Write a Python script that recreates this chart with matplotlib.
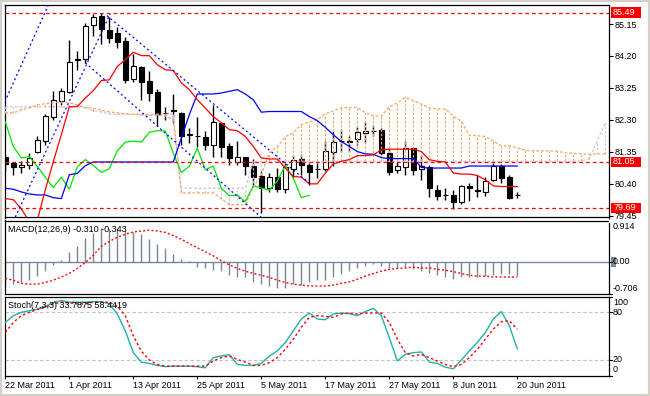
import numpy as np
import matplotlib
matplotlib.use('Agg')
import matplotlib.pyplot as plt
import matplotlib.transforms as mtransforms
from matplotlib.patches import Rectangle

plt.rcParams['font.family'] = ['Liberation Sans', 'DejaVu Sans']
plt.rcParams['font.size'] = 6.5

# ---- daily candles (one per trading day, 22 Mar 2011 .. 20 Jun 2011)
opens = [81.21, 81.02, 80.89, 80.96, 81.36, 81.68, 82.40, 82.85, 83.13, 84.08,
         84.12, 85.11, 85.40, 84.97, 84.88, 84.65, 83.51, 83.88, 83.46, 83.14,
         82.52, 82.58, 82.52, 81.86, 81.82, 81.79, 81.54, 82.21, 81.53, 81.06,
         81.20, 80.94, 80.62, 80.27, 80.60, 80.25, 80.84, 81.14, 80.97, 80.84,
         80.84, 81.36, 81.66, 81.68, 81.73, 81.91, 81.98, 82.01, 81.31, 80.82,
         80.89, 81.46, 80.84, 80.90, 80.22, 80.08, 80.07, 79.85, 80.34, 80.20,
         80.15, 80.50, 80.94, 80.59, 80.08]
highs = [81.26, 81.06, 81.09, 81.31, 81.83, 82.47, 83.17, 83.25, 84.68, 84.34,
         85.18, 85.46, 85.49, 85.35, 85.05, 84.75, 84.26, 83.91, 83.76, 83.22,
         82.67, 83.08, 82.55, 82.06, 82.40, 81.96, 82.75, 82.24, 81.61, 81.66,
         81.21, 81.14, 80.79, 80.72, 80.87, 81.02, 81.26, 81.28, 81.02, 81.02,
         81.66, 81.96, 82.04, 81.81, 82.10, 82.24, 82.16, 82.06, 81.43, 81.06,
         81.66, 81.48, 81.26, 80.97, 80.37, 80.29, 80.22, 80.37, 80.42, 80.65,
         80.59, 81.02, 80.99, 80.65, 80.17]
lows = [80.77, 80.65, 80.72, 80.84, 81.31, 81.56, 82.30, 82.75, 83.10, 83.79,
        84.00, 84.78, 84.56, 84.60, 84.45, 83.41, 83.43, 82.90, 82.87, 82.13,
        82.30, 82.21, 81.56, 81.61, 81.51, 81.41, 81.21, 81.21, 80.97, 80.97,
        80.67, 80.32, 79.52, 80.15, 80.15, 80.12, 80.57, 80.67, 80.37, 80.57,
        80.77, 80.92, 81.36, 81.36, 81.56, 81.61, 81.81, 81.26, 80.65, 80.72,
        80.67, 80.65, 80.52, 80.01, 79.93, 79.93, 79.66, 79.81, 79.88, 80.02,
        80.05, 80.47, 80.44, 79.96, 79.98]
closes = [80.99, 80.89, 80.96, 81.18, 81.71, 82.42, 82.90, 83.17, 84.02, 84.11,
          85.08, 85.35, 85.00, 84.73, 84.63, 83.49, 83.90, 83.44, 83.09, 82.47,
          82.51, 82.57, 81.83, 81.87, 81.81, 81.54, 82.24, 81.51, 81.17, 81.21,
          80.92, 80.60, 80.29, 80.60, 80.24, 80.90, 81.12, 80.95, 80.74, 80.85,
          81.38, 81.64, 81.67, 81.64, 81.93, 81.98, 81.97, 81.31, 80.74, 80.92,
          81.46, 80.82, 80.93, 80.27, 80.05, 80.07, 79.87, 80.34, 80.28, 80.21,
          80.49, 80.94, 80.57, 79.99, 80.06]

# ---- Ichimoku lines
tenkan = [79.96, 79.93, 79.66, 79.28, 79.32, 80.22, 81.06, 81.86, 82.69, 82.70,
          82.95, 83.17, 83.47, 83.49, 83.89, 84.09, 84.31, 84.21, 84.21, 83.94,
          83.79, 83.77, 83.40, 83.20, 82.90, 82.65, 82.40, 82.21, 82.01, 81.98,
          81.81, 81.51, 81.17, 81.14, 81.14, 80.87, 80.62, 80.60, 80.40, 80.40,
          80.72, 80.99, 81.07, 81.12, 81.24, 81.24, 81.26, 81.41, 81.43, 81.43,
          81.43, 81.43, 81.36, 81.12, 81.07, 81.05, 80.72, 80.69, 80.69, 80.65,
          80.52, 80.34, 80.32, 80.32, 80.32]
kijun = [80.27, 80.24, 80.16, 80.10, 80.07, 80.07, 79.99, 79.96, 80.67, 80.71,
         80.94, 81.05, 81.05, 81.05, 81.05, 81.05, 81.05, 81.05, 81.05, 81.05,
         81.05, 81.05, 81.76, 82.45, 83.07, 83.07, 83.07, 83.10, 83.15, 83.20,
         83.07, 82.90, 82.53, 82.55, 82.55, 82.55, 82.55, 82.55, 82.40, 82.28,
         82.08, 81.86, 81.66, 81.51, 81.36, 81.29, 81.28, 81.18, 81.15, 81.15,
         81.15, 81.15, 80.89, 80.87, 80.87, 80.87, 80.87, 80.87, 80.93, 80.93,
         80.93, 80.93, 80.93, 80.93, 80.93]
span_a = [82.51, 82.51, 82.60, 82.66, 82.75, 82.78, 82.81, 82.83, 82.81, 82.74,
          82.66, 82.65, 82.59, 82.54, 82.51, 82.48, 82.47, 82.45, 82.44, 82.44,
          82.42, 82.30, 80.13, 80.13, 80.13, 80.13, 80.13, 79.96, 79.78, 79.78,
          79.78, 80.32, 80.67, 81.32, 81.50, 81.80, 81.92, 82.16, 82.24, 82.31,
          82.48, 82.57, 82.66, 82.67, 82.67, 82.51, 82.42, 82.42, 82.69, 82.81,
          82.97, 82.87, 82.77, 82.66, 82.63, 82.62, 82.42, 82.26, 81.84, 81.83,
          81.81, 81.67, 81.53, 81.53, 81.47, 81.40, 81.38, 81.38, 81.38, 81.37,
          81.32, 81.31, 81.29, 81.28, 81.29, 81.29]
span_b = [82.69] * 11 + [82.57, 82.54] + [82.47] * 9 + [80.27] * 9 \
    + [81.07] * 42 + [81.15, 81.68, 82.22]
chikou_shift = 26

# ---- drawn objects: blue dashed trend lines (bar index, price) and levels
trend_lines = [[(-1.0, 82.34), (6.5, 86.31)],
               [(0.5, 79.03), (13.1, 85.45)],
               [(12.7, 85.40), (38.1, 80.40)],
               [(10.0, 84.00), (32.2, 79.36)]]
levels = [85.49, 81.05, 79.69]
price_ticks = [79.45, 80.40, 81.35, 82.30, 83.25, 84.20, 85.15]

# ---- MACD(12,26,9)
macd_hist = [-0.52, -0.50, -0.46, -0.41, -0.32, -0.21, -0.08, 0.03, 0.22, 0.34,
             0.52, 0.63, 0.75, 0.72, 0.74, 0.70, 0.66, 0.61, 0.50, 0.40,
             0.31, 0.18, 0.05, 0.01, -0.11, -0.15, -0.18, -0.21, -0.30, -0.34,
             -0.35, -0.46, -0.50, -0.53, -0.59, -0.58, -0.49, -0.52, -0.46, -0.41,
             -0.40, -0.34, -0.28, -0.21, -0.14, -0.10, -0.06, -0.10, -0.14, -0.14,
             -0.12, -0.17, -0.21, -0.25, -0.30, -0.34, -0.38, -0.34, -0.35, -0.34,
             -0.32, -0.30, -0.28, -0.28, -0.31]
macd_signal = [-0.37, -0.41, -0.48, -0.50, -0.50, -0.46, -0.41, -0.34, -0.26, -0.15,
               -0.02, 0.14, 0.34, 0.45, 0.54, 0.61, 0.66, 0.68, 0.70, 0.68,
               0.65, 0.58, 0.50, 0.40, 0.31, 0.22, 0.13, 0.02, -0.07, -0.15,
               -0.21, -0.26, -0.30, -0.35, -0.41, -0.46, -0.50, -0.52, -0.54, -0.54,
               -0.54, -0.52, -0.48, -0.45, -0.39, -0.32, -0.26, -0.21, -0.17, -0.15,
               -0.14, -0.12, -0.14, -0.14, -0.17, -0.19, -0.22, -0.26, -0.30, -0.32,
               -0.32, -0.34, -0.34, -0.34, -0.343]

# ---- Stochastic(7,3,3)
stoch_k = [67.2, 75.7, 80.0, 82.0, 84.0, 87.7, 92.0, 95.0, 92.8, 92.8,
           92.8, 93.6, 93.6, 90.6, 77.9, 56.6, 29.0, 17.0, 15.3, 12.8,
           11.1, 11.9, 11.9, 11.9, 11.1, 9.8, 22.6, 24.7, 26.4, 14.0,
           12.8, 12.8, 15.3, 24.7, 31.0, 41.7, 56.6, 71.5, 79.1, 71.5,
           70.6, 77.9, 79.1, 78.3, 75.7, 80.9, 85.1, 75.7, 48.1, 18.3,
           26.8, 28.9, 29.8, 17.0, 15.3, 10.6, 8.5, 19.6, 31.0, 41.7,
           54.5, 71.5, 80.9, 63.0, 33.79]
stoch_d = [54.5, 67.2, 75.7, 80.0, 83.4, 86.4, 90.6, 92.8, 92.0, 90.6,
           90.6, 92.8, 92.8, 92.8, 87.7, 75.7, 50.2, 31.0, 19.6, 14.0,
           11.9, 11.9, 11.9, 11.9, 11.9, 11.9, 18.3, 22.6, 24.7, 20.4,
           17.0, 12.8, 12.8, 16.2, 22.6, 33.2, 46.0, 60.9, 73.6, 75.7,
           74.9, 73.6, 77.9, 79.1, 77.9, 79.1, 79.1, 79.1, 67.2, 46.0,
           28.9, 24.7, 26.8, 22.6, 18.3, 14.0, 11.1, 14.0, 22.6, 33.2,
           46.0, 58.7, 68.1, 69.4, 58.44]

date_pos = [0, 8, 16, 24, 32, 40, 48, 56, 64]
date_labels = ['22 Mar 2011', '1 Apr 2011', '13 Apr 2011', '25 Apr 2011',
               '5 May 2011', '17 May 2011', '27 May 2011', '8 Jun 2011',
               '20 Jun 2011']

W, H = 650, 396
XLIM = (-0.1, 75.4)

fig = plt.figure(figsize=(W / 100, H / 100), dpi=100)
fig.patch.set_facecolor('white')


def box(x0, y0, x1, y1):
    # pixel rectangle (top-left origin) -> figure fraction
    return [x0 / W, 1 - y1 / H, (x1 - x0) / W, (y1 - y0) / H]


ax = fig.add_axes(box(4.5, 4.5, 608.5, 217.5))
ax_m = fig.add_axes(box(4.5, 220.5, 608.5, 293.5))
ax_s = fig.add_axes(box(4.5, 296.5, 608.5, 375.5))

for a in (ax, ax_m, ax_s):
    a.set_xlim(*XLIM)
    a.set_facecolor('white')
    for sp in a.spines.values():
        sp.set_color('black')
        sp.set_linewidth(0.9)
    a.tick_params(axis='x', bottom=False, labelbottom=False)
    a.yaxis.tick_right()

# ---------------- main price panel
idx = np.arange(len(opens))
o, h, l, c = map(np.asarray, (opens, highs, lows, closes))
ax.set_ylim(79.40, 85.73)

ax.vlines(idx, l, h, color='black', lw=1.0, zorder=2)
up = c >= o
body_lo = np.minimum(o, c)
body_h = np.maximum(np.abs(c - o), 0.001)
ax.bar(idx[up], body_h[up], bottom=body_lo[up], width=0.62,
       facecolor='white', edgecolor='black', lw=0.8, zorder=2.5)
ax.bar(idx[~up], body_h[~up], bottom=body_lo[~up], width=0.62,
       facecolor='black', edgecolor='black', lw=0.8, zorder=2.5)

# kumo
sa = np.asarray(span_a)
sb = np.asarray(span_b)
sidx = np.arange(len(sa))
sandy, thistle = '#F4A460', '#D8BFD8'
cols = [sandy if a_ >= b_ else thistle for a_, b_ in zip(sa, sb)]
ax.vlines(sidx, np.minimum(sa, sb), np.maximum(sa, sb), colors=cols,
          linestyles=[(0, (2.2, 1.6))], lw=0.8, zorder=3)
ax.plot(sidx, sb, color=thistle, ls=(0, (2.2, 1.6)), lw=0.9, zorder=3)
ax.plot(sidx, sa, color=sandy, ls=(0, (2.2, 1.6)), lw=0.9, zorder=3)

ax.plot(idx[:len(c) - chikou_shift], c[chikou_shift:], color='#00E600', lw=0.9, zorder=4)
ax.plot(idx, kijun, color='#0000FF', lw=0.9, zorder=4)
ax.plot(idx, tenkan, color='#FF0000', lw=0.9, zorder=4)

for (x0, y0), (x1, y1) in trend_lines:
    ax.plot([x0, x1], [y0, y1], color='#0000FF', lw=0.9, ls=(0, (1.6, 2.2)), zorder=4)

trans = mtransforms.blended_transform_factory(ax.transAxes, ax.transData)
for lv in levels:
    ax.axhline(lv, color='#FF0000', lw=0.9, ls=(0, (3, 2.4)), zorder=4)
    ax.add_patch(Rectangle((1.0035, lv - 0.155), 0.051, 0.31, transform=trans,
                           facecolor='#FF0000', edgecolor='none', clip_on=False, zorder=6))
    ax.text(1.0075, lv, f'{lv:.2f}', transform=trans, color='white', va='center',
            ha='left', fontsize=6.5, zorder=7, clip_on=False)

ax.set_yticks(price_ticks)
ax.set_yticklabels([f'{v:.2f}' for v in price_ticks])
ax.tick_params(axis='y', length=3, width=0.8, pad=1.2, labelsize=6.5)

# ---------------- MACD panel
ax_m.set_ylim(-0.706, 0.914)
ax_m.set_yticks([])
ax_m.axhline(0, color='#778899', lw=1.0, zorder=1)
ax_m.vlines(idx, 0, macd_hist, color='#7A8796', lw=1.0, zorder=2)
ax_m.plot(idx, macd_signal, color='#FF0000', lw=1.0, ls=(0, (1.4, 1.6)), zorder=3)
ax_m.text(0.0065, 0.94, 'MACD(12,26,9) -0.310 -0.343', transform=ax_m.transAxes,
          va='top', ha='left', fontsize=6.5, zorder=5)
tm = mtransforms.blended_transform_factory(ax_m.transAxes, ax_m.transData)
ax_m.add_patch(Rectangle((1.0035, -0.11), 0.0085, 0.22, transform=tm,
                         facecolor='#778899', edgecolor='none', clip_on=False))
for yv, txt, yfrac in [(0.914, '0.914', 0.915), (0.0, '0.00', None), (-0.706, '-0.706', 0.075)]:
    if yfrac is None:
        ax_m.text(1.0075, yv, txt, transform=tm, va='center', ha='left', clip_on=False)
    else:
        ax_m.text(1.0075, yfrac, txt, transform=ax_m.transAxes, va='center',
                  ha='left', clip_on=False)
    ax_m.plot([1.0, 1.005], [yv, yv], transform=tm, color='black', lw=0.8, clip_on=False)

# ---------------- Stochastic panel
ax_s.set_ylim(0, 100)
ax_s.set_yticks([])
for lv in (80, 20):
    ax_s.axhline(lv, color='#C0C0C0', lw=0.8, ls=(0, (3, 2.2)), zorder=1)
ax_s.plot(idx, stoch_k, color='#20B2AA', lw=1.0, zorder=3)
ax_s.plot(idx, stoch_d, color='#FF0000', lw=1.0, ls=(0, (1.8, 1.8)), zorder=3)
ax_s.text(0.0065, 0.94, 'Stoch(7,3,3) 33.7875 58.4419', transform=ax_s.transAxes,
          va='top', ha='left', fontsize=6.5, zorder=5)
ts = mtransforms.blended_transform_factory(ax_s.transAxes, ax_s.transData)
for yv, txt, yfrac in [(100, '100', 0.918), (80, '80', None), (20, '20', None), (0, '0', 0.078)]:
    if yfrac is None:
        ax_s.text(1.0075, yv, txt, transform=ts, va='center', ha='left', clip_on=False)
    else:
        ax_s.text(1.0075, yfrac, txt, transform=ax_s.transAxes, va='center',
                  ha='left', clip_on=False)
    ax_s.plot([1.0, 1.005], [yv, yv], transform=ts, color='black', lw=0.8, clip_on=False)

ax_s.set_xticks(date_pos)
ax_s.set_xticklabels(date_labels, ha='left')
ax_s.tick_params(axis='x', bottom=True, labelbottom=True, length=2.5, width=0.8,
                 pad=1.5, labelsize=6.5)
for lab in ax_s.get_xticklabels():
    lab.set_x(lab.get_position()[0])

# mask the bottom price label where the MACD window starts, and outer frame
fig.patches.append(Rectangle((609 / W, 1 - 223 / H), 40 / W, 3.5 / H,
                             transform=fig.transFigure, facecolor='white',
                             edgecolor='none', zorder=5))
fig.patches.append(Rectangle((0, 0), 1, 1, transform=fig.transFigure, fill=False,
                             edgecolor='#D4D0C8', lw=3, zorder=6))

fig.savefig('out.png', dpi=100, facecolor='white')
